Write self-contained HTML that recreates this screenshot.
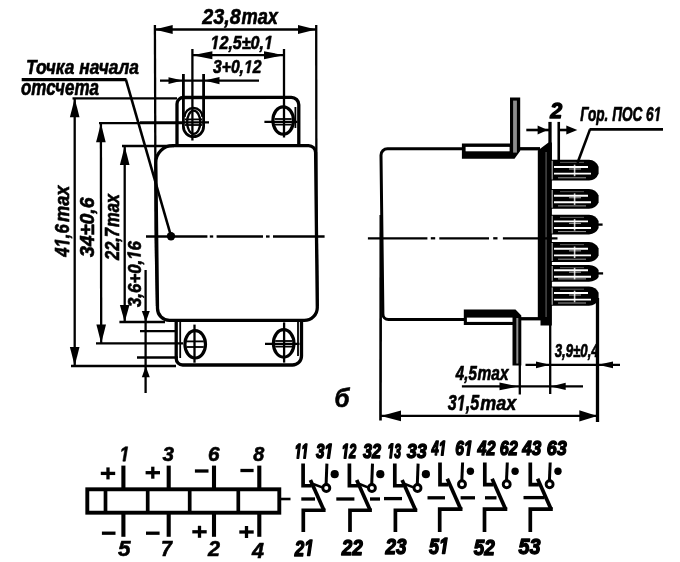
<!DOCTYPE html>
<html>
<head>
<meta charset="utf-8">
<title>Relay drawing</title>
<style>
html,body{margin:0;padding:0;background:#fff;}
body{width:680px;height:562px;overflow:hidden;font-family:"Liberation Sans",sans-serif;}
svg{display:block;position:absolute;left:0;top:0;}
.k{stroke:#000;fill:none;stroke-width:3.3;stroke-linecap:butt;stroke-linejoin:miter;}
.m{stroke:#000;fill:none;stroke-width:2.6;}
.c{stroke:#000;fill:none;stroke-width:3.7;stroke-linejoin:miter;}
.t{stroke:#000;fill:none;stroke-width:2.3;}
.h{stroke:#000;fill:none;stroke-width:1.8;}
.a{fill:#000;stroke:none;}
g.tx{fill:#000;stroke:#000;stroke-width:0.6px;stroke-linejoin:round;}
g.tx.b{stroke-width:1.3px;}
g.tx text,g.tx path{vector-effect:non-scaling-stroke;}
text{font-family:"Liberation Sans",sans-serif;font-style:italic;font-weight:bold;}
</style>
</head>
<body>
<svg width="680" height="562" viewBox="0 0 680 562">
<defs><filter id="bl" x="-5%" y="-5%" width="110%" height="110%"><feGaussianBlur stdDeviation="0.45"/></filter></defs>
<rect x="0" y="0" width="680" height="562" fill="#fff"/>
<g filter="url(#bl)">
<!-- FRONT VIEW -->
<path class="k" d="M155.8,162.6 A17,17 0 0 1 172.8,145.6 L308.6,145.6 A7,7 0 0 1 315.6,152.6 L317.3,307.4 A13,13 0 0 1 304.3,320.4 L169.5,320.4 A12,12 0 0 1 157.5,308.4 Z"/>
<path class="k" d="M177,146 L177,104 A6.5,6.5 0 0 1 183.5,97.5 L291.3,97.3 A7.5,7.5 0 0 1 298.8,104.8 L298.8,146"/>
<path class="h" d="M295.4,128 L295.4,107" />
<path class="k" d="M176.2,320.5 L176.2,358.5 A6.5,6.5 0 0 0 182.7,365 L292.5,365 A9,9 0 0 0 301.5,356 L301.5,320.5"/>
<path class="h" d="M180.2,322 L180.2,358" />
<path class="h" d="M298,322 L298,356" />
<path class="k" d="M183.4,74 L183.4,126.5 A10.1,10.1 0 0 0 203.6,126.5 L203.6,74" style="stroke-width:2.8"/>
<path class="t" d="M184.5,117 A9,9 0 0 1 202.5,117"/>
<ellipse class="t" cx="193.7" cy="122.3" rx="6.6" ry="11.6"/>
<ellipse class="k" cx="283.2" cy="120.5" rx="10.3" ry="13.7" style="stroke-width:3.2"/>
<ellipse class="k" cx="195.2" cy="344.3" rx="10.3" ry="13.7" style="stroke-width:3.2"/>
<ellipse class="k" cx="283.7" cy="343.4" rx="10.3" ry="13.7" style="stroke-width:3.2"/>
<path class="h" d="M185.0,119.4 L202.0,119.4" />
<path class="h" d="M185.0,125.0 L202.0,125.0" />
<path class="h" d="M274.7,119.0 L291.7,119.0" />
<path class="h" d="M274.7,124.6 L291.7,124.6" />
<path class="h" d="M186.7,341.4 L203.7,341.4" />
<path class="h" d="M186.7,347.0 L203.7,347.0" />
<path class="h" d="M275.2,341.0 L292.2,341.0" />
<path class="h" d="M275.2,346.6 L292.2,346.6" />
<path class="t" d="M140,122.4 L209,122.4" />
<path class="t" d="M264.4,121.8 L297.5,121.8" />
<path class="t" d="M265,343.9 L299.5,343.9" />
<path class="t" d="M192.4,100 L192.4,140.5" />
<path class="t" d="M284.1,322.4 L284.1,362.6" />
<path class="t" d="M194.5,324.6 L194.5,362.7" />
<path class="t" d="M146,236.5 L207.4,236.5" />
<path class="t" d="M209.8,236.5 L213.2,236.5" />
<path class="t" d="M216.6,236.5 L263,236.5" />
<path class="t" d="M266,236.5 L269.6,236.5" />
<path class="t" d="M273,236.5 L324.6,236.5" />
<path class="t" d="M154.9,25 L155.6,240" />
<path class="t" d="M155.6,240 L157,306" />
<path class="t" d="M316.2,25 L316.4,200" />
<path class="t" d="M316.4,200 L317.6,306" />
<path class="t" d="M154.7,29.5 L316,29.5" />
<polygon class="a" points="154.7,29.5 172.7,24.9 172.7,34.1"/>
<polygon class="a" points="316.0,29.5 298.0,34.1 298.0,24.9"/>
<g class="tx" transform="translate(202.3 24) scale(0.1978 0.2200)"><text x="0.0" y="0" font-size="100">23,8</text></g>
<g class="tx" transform="translate(241.5 24) scale(0.1824 0.2200)"><text x="0.0" y="0" font-size="100">max</text></g>
<path class="t" d="M192.4,49 L192.4,100" />
<path class="t" d="M284,49 L284,137.5" />
<path class="t" d="M192.4,55.2 L284,55.2" />
<polygon class="a" points="192.4,55.2 212.4,51.2 212.4,59.2"/>
<polygon class="a" points="284.0,55.2 264.0,59.2 264.0,51.2"/>
<g class="tx" transform="translate(210.5 49) scale(0.1609 0.1900)"><path d="M18.6,0 L29.5,-56.25 L10.9,-45.8 L13.2,-57.6 L32.5,-68.8 L45.7,-68.8 L32.3,0 Z" transform="translate(0.0 0)"/><text x="55.6" y="0" font-size="100">2,5±0,</text><path d="M18.6,0 L29.5,-56.25 L10.9,-45.8 L13.2,-57.6 L32.5,-68.8 L45.7,-68.8 L32.3,0 Z" transform="translate(332.9 0)"/></g>
<path class="t" d="M160,80.6 L259,80.6" />
<polygon class="a" points="182.5,80.6 168.5,84.0 168.5,77.2"/>
<polygon class="a" points="204.5,80.6 219.5,77.0 219.5,84.2"/>
<g class="tx" transform="translate(213 73) scale(0.1571 0.1800)"><text x="0.0" y="0" font-size="100">3+0,</text><path d="M18.6,0 L29.5,-56.25 L10.9,-45.8 L13.2,-57.6 L32.5,-68.8 L45.7,-68.8 L32.3,0 Z" transform="translate(197.4 0)"/><text x="253.0" y="0" font-size="100">2</text></g>
<path class="t" d="M72.5,98.3 L177,98.3" />
<path class="t" d="M71,366 L176,366" />
<path class="t" d="M74.7,98.3 L74.7,366" />
<polygon class="a" points="74.7,98.3 79.5,117.3 69.9,117.3"/>
<polygon class="a" points="74.7,366.0 69.9,347.0 79.5,347.0"/>
<g class="tx" transform="translate(69.3 256.7) rotate(-90) scale(0.1670 0.2100)"><text x="0.0" y="0" font-size="100">4</text><path d="M18.6,0 L29.5,-56.25 L10.9,-45.8 L13.2,-57.6 L32.5,-68.8 L45.7,-68.8 L32.3,0 Z" transform="translate(55.6 0)"/><text x="111.2" y="0" font-size="100">,6</text></g>
<g class="tx" transform="translate(69.3 222) rotate(-90) scale(0.1824 0.2100)"><text x="0.0" y="0" font-size="100">max</text></g>
<path class="t" d="M99,123.2 L183,123.2" />
<path class="t" d="M96,343.4 L183,343.4" />
<path class="t" d="M100.9,123.2 L101.2,343.4" />
<polygon class="a" points="100.9,123.2 105.7,142.2 96.1,142.2"/>
<polygon class="a" points="101.2,343.4 96.4,324.4 106.0,324.4"/>
<g class="tx" transform="translate(93.8 257) rotate(-90) scale(0.1950 0.2050)"><text x="0.0" y="0" font-size="100">34±0,6</text></g>
<path class="t" d="M122,146 L174,146" />
<path class="t" d="M119.4,322 L165,322" />
<path class="t" d="M124.7,146 L124.7,322" />
<polygon class="a" points="124.7,146.0 129.5,165.0 119.9,165.0"/>
<polygon class="a" points="124.7,322.0 119.9,305.0 129.5,305.0"/>
<g class="tx" transform="translate(119.3 260) rotate(-90) scale(0.1644 0.1950)"><text x="0.0" y="0" font-size="100">22,7</text></g>
<g class="tx" transform="translate(119.3 227) rotate(-90) scale(0.1649 0.1950)"><text x="0.0" y="0" font-size="100">max</text></g>
<path class="t" d="M145.6,270 L145.6,393" />
<path class="t" d="M140,331.2 L176,331.2" />
<path class="t" d="M137,357.5 L178,357.5" />
<polygon class="a" points="145.8,322.0 141.8,311.0 149.8,311.0"/>
<polygon class="a" points="145.8,366.3 149.8,377.3 141.8,377.3"/>
<g class="tx" transform="translate(140.6 307) rotate(-90) scale(0.1683 0.1900)"><text x="0.0" y="0" font-size="100">3,6+0,</text><path d="M18.6,0 L29.5,-56.25 L10.9,-45.8 L13.2,-57.6 L32.5,-68.8 L45.7,-68.8 L32.3,0 Z" transform="translate(280.8 0)"/><text x="336.4" y="0" font-size="100">6</text></g>
<g class="tx" transform="translate(26 73.5) scale(0.1733 0.2100)"><text x="0.0" y="0" font-size="100">Точка начала</text></g>
<g class="tx" transform="translate(21 94.6) scale(0.1700 0.2200)"><text x="0.0" y="0" font-size="100">отсчета</text></g>
<path class="k" d="M21.7,79.7 L126.5,79.7" />
<path class="m" d="M125.9,79.7 L171,236" />
<circle class="a" cx="171" cy="236.3" r="4.2"/>
<!-- SIDE VIEW -->
<path class="k" d="M462,148.7 L387.5,148.7 A6.5,6.5 0 0 0 381,155.2 L382.9,314 A5.5,5.5 0 0 0 388.4,319.5 L464.4,319.5" style="stroke-width:3"/>
<path class="m" d="M380.8,215 L380.5,420.5" />
<path class="k" d="M520,148.75 L540,148.75" />
<path class="k" d="M521,318.75 L541,318.75" />
<path class="a" d="M461.9,143.6 L510,143.6 L510,97.5 L520.2,97.5 L520.2,151 L514.5,158.7 L461.9,158.7 Z"/>
<rect x="465.6" y="146.9" width="44" height="4.4" fill="#fff"/>
<rect x="513.1" y="100.6" width="3.8" height="52" fill="#8c8c8c"/>
<path class="a" d="M463.8,309.4 L515.5,309.4 L521.3,315.6 L521.3,365.6 L512.5,365.6 L512.5,325 L463.8,325 Z"/>
<rect x="466.9" y="317.6" width="45.6" height="4.3" fill="#fff"/>
<rect x="516.3" y="318" width="2" height="45.5" fill="#8c8c8c"/>
<path class="a" d="M537.8,150.5 L548.5,142.6 L551.9,142.6 L551.9,325.5 L540.5,325.5 L540.5,319 L537.8,319 Z"/>
<rect x="545.6" y="152" width="0.9" height="165" fill="#777"/>
<path class="a" d="M551,159.79999999999998 L589,159.79999999999998 Q596,160.29999999999998 598.6,166.7 L598.6,173.7 Q596,180.1 589,180.6 L551,180.6 Z"/>
<path d="M554,167.0 L588,167.0" stroke="#fff" stroke-width="1.9"/>
<path d="M554,173.6 L591,173.6" stroke="#fff" stroke-width="1.9"/>
<path d="M552.2,160.79999999999998 L552.2,179.6" stroke="#fff" stroke-width="1.1" opacity="0.75"/>
<path d="M558,177.79999999999998 L586,177.79999999999998" stroke="#fff" stroke-width="1" opacity="0.6"/>
<path d="M560,162.39999999999998 L584,162.39999999999998" stroke="#fff" stroke-width="1" opacity="0.35"/>
<path d="M574.6,164.7 L574.6,176.2" stroke="#fff" stroke-width="1.6" opacity="0.8"/>
<path d="M569,169.0 L581,169.0" stroke="#fff" stroke-width="1.2" opacity="0.55"/>
<path class="a" d="M551,189.1 L589,189.1 Q596,189.6 598.6,195.4 L598.6,202.4 Q596,208.20000000000002 589,208.70000000000002 L551,208.70000000000002 Z"/>
<path d="M554,195.70000000000002 L588,195.70000000000002" stroke="#fff" stroke-width="1.9"/>
<path d="M554,202.3 L591,202.3" stroke="#fff" stroke-width="1.9"/>
<path d="M552.2,190.1 L552.2,207.70000000000002" stroke="#fff" stroke-width="1.1" opacity="0.75"/>
<path d="M558,205.9 L586,205.9" stroke="#fff" stroke-width="1" opacity="0.6"/>
<path d="M560,191.7 L584,191.7" stroke="#fff" stroke-width="1" opacity="0.35"/>
<path d="M574.6,193.4 L574.6,204.9" stroke="#fff" stroke-width="1.6" opacity="0.8"/>
<path d="M569,197.70000000000002 L581,197.70000000000002" stroke="#fff" stroke-width="1.2" opacity="0.55"/>
<path class="a" d="M551,214.79999999999998 L589,214.79999999999998 Q596,215.29999999999998 598.6,221.1 L598.6,228.1 Q596,233.9 589,234.4 L551,234.4 Z"/>
<path class="t" d="M598,224.6 L602.6,224.6"/>
<path d="M554,221.4 L588,221.4" stroke="#fff" stroke-width="1.9"/>
<path d="M554,228.0 L591,228.0" stroke="#fff" stroke-width="1.9"/>
<path d="M552.2,215.79999999999998 L552.2,233.4" stroke="#fff" stroke-width="1.1" opacity="0.75"/>
<path d="M558,231.6 L586,231.6" stroke="#fff" stroke-width="1" opacity="0.6"/>
<path d="M560,217.39999999999998 L584,217.39999999999998" stroke="#fff" stroke-width="1" opacity="0.35"/>
<path d="M574.6,219.1 L574.6,230.6" stroke="#fff" stroke-width="1.6" opacity="0.8"/>
<path d="M569,223.4 L581,223.4" stroke="#fff" stroke-width="1.2" opacity="0.55"/>
<path class="a" d="M551,242 L589,242 Q596,242.5 598.6,248.5 L598.6,255.5 Q596,261.5 589,262 L551,262 Z"/>
<path d="M554,248.8 L588,248.8" stroke="#fff" stroke-width="1.9"/>
<path d="M554,255.4 L591,255.4" stroke="#fff" stroke-width="1.9"/>
<path d="M552.2,243 L552.2,261" stroke="#fff" stroke-width="1.1" opacity="0.75"/>
<path d="M558,259.2 L586,259.2" stroke="#fff" stroke-width="1" opacity="0.6"/>
<path d="M560,244.6 L584,244.6" stroke="#fff" stroke-width="1" opacity="0.35"/>
<path d="M574.6,246.5 L574.6,258" stroke="#fff" stroke-width="1.6" opacity="0.8"/>
<path d="M569,250.8 L581,250.8" stroke="#fff" stroke-width="1.2" opacity="0.55"/>
<path class="a" d="M551,265.09999999999997 L589,265.09999999999997 Q596,265.59999999999997 598.6,269.9 L598.6,276.9 Q596,281.2 589,281.7 L551,281.7 Z"/>
<path class="t" d="M598,273.4 L603.1,273.4"/>
<path d="M554,270.2 L588,270.2" stroke="#fff" stroke-width="1.9"/>
<path d="M554,276.79999999999995 L591,276.79999999999995" stroke="#fff" stroke-width="1.9"/>
<path d="M552.2,266.09999999999997 L552.2,280.7" stroke="#fff" stroke-width="1.1" opacity="0.75"/>
<path d="M558,278.9 L586,278.9" stroke="#fff" stroke-width="1" opacity="0.6"/>
<path d="M560,267.7 L584,267.7" stroke="#fff" stroke-width="1" opacity="0.35"/>
<path d="M574.6,267.9 L574.6,279.4" stroke="#fff" stroke-width="1.6" opacity="0.8"/>
<path d="M569,272.2 L581,272.2" stroke="#fff" stroke-width="1.2" opacity="0.55"/>
<path class="a" d="M551,286.59999999999997 L589,286.59999999999997 Q596,287.09999999999997 598.6,292.7 L598.6,299.7 Q596,305.3 589,305.8 L551,305.8 Z"/>
<path d="M554,293.0 L588,293.0" stroke="#fff" stroke-width="1.9"/>
<path d="M554,299.59999999999997 L591,299.59999999999997" stroke="#fff" stroke-width="1.9"/>
<path d="M552.2,287.59999999999997 L552.2,304.8" stroke="#fff" stroke-width="1.1" opacity="0.75"/>
<path d="M558,303.0 L586,303.0" stroke="#fff" stroke-width="1" opacity="0.6"/>
<path d="M560,289.2 L584,289.2" stroke="#fff" stroke-width="1" opacity="0.35"/>
<path d="M574.6,290.7 L574.6,302.2" stroke="#fff" stroke-width="1.6" opacity="0.8"/>
<path d="M569,295.0 L581,295.0" stroke="#fff" stroke-width="1.2" opacity="0.55"/>
<path class="t" d="M367.9,238.3 L427.4,238.3" />
<path class="t" d="M430.8,238.3 L435.2,238.3" />
<path class="t" d="M439.3,238.3 L489,238.3" />
<path class="t" d="M493.2,238.3 L497.5,238.3" />
<path class="t" d="M502.9,238.3 L557.5,238.3" />
<path class="k" d="M550,121.9 L550,160" />
<path class="m" d="M558.75,121.9 L558.75,162" />
<path class="m" d="M526.3,130 L549,130" />
<path class="m" d="M559,130 L570,130" />
<polygon class="a" points="547.6,130.0 537.6,134.6 537.6,125.4"/>
<polygon class="a" points="577.3,130.0 566.3,134.6 566.3,125.4"/>
<g class="tx b" transform="translate(550.3 117.6) scale(0.2150 0.2150)"><text x="0.0" y="0" font-size="100">2</text></g>
<g class="tx" transform="translate(580.3 120.9) scale(0.1361 0.2000)"><text x="0.0" y="0" font-size="100">Гор. ПОС 6</text><path d="M18.6,0 L29.5,-56.25 L10.9,-45.8 L13.2,-57.6 L32.5,-68.8 L45.7,-68.8 L32.3,0 Z" transform="translate(539.5 0)"/></g>
<path class="m" d="M589.5,129.4 L663,129.4" />
<path class="m" d="M590,129.4 L577.5,163" />
<path class="t" d="M519.8,365 L519.8,394.5" />
<path class="t" d="M550.2,325 L550.2,394" />
<path class="k" d="M597.5,298 L597.5,422" />
<path class="t" d="M525.5,364.8 L620,364.8" />
<polygon class="a" points="550.0,364.8 536.0,368.2 536.0,361.4"/>
<polygon class="a" points="598.0,364.8 613.0,361.4 613.0,368.2"/>
<g class="tx" transform="translate(554.7 357.3) scale(0.1322 0.1750)"><text x="0.0" y="0" font-size="100">3,9±0,4</text></g>
<path class="t" d="M461.9,386.4 L583,386.4" />
<polygon class="a" points="518.5,386.4 499.5,390.2 499.5,382.6"/>
<polygon class="a" points="550.7,386.4 565.7,382.8 565.7,390.0"/>
<g class="tx" transform="translate(455.8 380) scale(0.1511 0.1950)"><text x="0.0" y="0" font-size="100">4,5</text></g>
<g class="tx" transform="translate(477.6 380) scale(0.1549 0.1950)"><text x="0.0" y="0" font-size="100">max</text></g>
<path class="t" d="M381,415.9 L597,415.9" />
<polygon class="a" points="381.0,415.9 401.0,410.5 401.0,421.3"/>
<polygon class="a" points="597.3,415.9 579.3,421.6 579.3,410.2"/>
<g class="tx" transform="translate(447.8 410.4) scale(0.1608 0.2200)"><text x="0.0" y="0" font-size="100">3</text><path d="M18.6,0 L29.5,-56.25 L10.9,-45.8 L13.2,-57.6 L32.5,-68.8 L45.7,-68.8 L32.3,0 Z" transform="translate(55.6 0)"/><text x="111.2" y="0" font-size="100">,5</text></g>
<g class="tx" transform="translate(480.3 410.4) scale(0.1799 0.2100)"><text x="0.0" y="0" font-size="100">max</text></g>
<g class="tx" transform="translate(334.5 407) scale(0.2423 0.2550)"><text x="0.0" y="0" font-size="100">б</text></g>
<!-- SCHEMATIC -->
<rect class="c" x="87.3" y="489.3" width="192" height="23.4" style="stroke-width:3.9"/>
<path class="c" d="M105.5,489 L105.5,513" />
<path class="c" d="M147.7,489 L147.7,513" />
<path class="c" d="M189.7,489 L189.7,513" />
<path class="c" d="M238.3,489 L238.3,513" />
<path class="c" d="M123.4,465.6 L123.4,489" style="stroke-width:4.1"/>
<path class="c" d="M123.4,513 L123.4,536.8" style="stroke-width:4.1"/>
<path class="c" d="M168.7,465.6 L168.7,489" style="stroke-width:4.1"/>
<path class="c" d="M168.7,513 L168.7,536.8" style="stroke-width:4.1"/>
<path class="c" d="M214,465.6 L214,489" style="stroke-width:4.1"/>
<path class="c" d="M214,513 L214,536.8" style="stroke-width:4.1"/>
<path class="c" d="M259.3,465.6 L259.3,489" style="stroke-width:4.1"/>
<path class="c" d="M259.3,513 L259.3,536.8" style="stroke-width:4.1"/>
<path class="m" d="M281,499 L290.5,499" />
<g class="tx" transform="translate(119.5 461.2) scale(0.1798 0.2100)"><path d="M18.6,0 L29.5,-56.25 L10.9,-45.8 L13.2,-57.6 L32.5,-68.8 L45.7,-68.8 L32.3,0 Z" transform="translate(0.0 0)"/></g>
<g class="tx" transform="translate(162.5 461.2) scale(0.2068 0.2100)"><text x="0.0" y="0" font-size="100">3</text></g>
<g class="tx" transform="translate(208 461.2) scale(0.2068 0.2100)"><text x="0.0" y="0" font-size="100">6</text></g>
<g class="tx" transform="translate(253.2 461.2) scale(0.1978 0.2100)"><text x="0.0" y="0" font-size="100">8</text></g>
<g class="tx" transform="translate(118 556.3) scale(0.2248 0.2200)"><text x="0.0" y="0" font-size="100">5</text></g>
<g class="tx" transform="translate(161 556.3) scale(0.1978 0.2200)"><text x="0.0" y="0" font-size="100">7</text></g>
<g class="tx" transform="translate(208 556.3) scale(0.2158 0.2200)"><text x="0.0" y="0" font-size="100">2</text></g>
<g class="tx" transform="translate(252 557.8) scale(0.2158 0.2200)"><text x="0.0" y="0" font-size="100">4</text></g>
<path class="k" d="M100.8,473.4 L115.2,473.4" />
<path class="k" d="M108,467.4 L108,479.4" />
<path class="k" d="M145.60000000000002,472.7 L160.0,472.7" />
<path class="k" d="M152.8,466.7 L152.8,478.7" />
<path class="k" d="M194.89999999999998,471 L208.5,471" />
<path class="k" d="M240.4,470.5 L253.6,470.5" />
<path class="k" d="M101.9,533.2 L115.5,533.2" />
<path class="k" d="M146.0,533.2 L159.60000000000002,533.2" />
<path class="k" d="M192.3,531.8 L206.7,531.8" />
<path class="k" d="M199.5,525.8 L199.5,537.8" />
<path class="k" d="M239.3,532 L253.7,532" />
<path class="k" d="M246.5,526 L246.5,538" />
<path class="c" d="M303.1,463.6 L303.1,485.75 L311.70000000000005,485.75"/>
<path class="c" d="M310.40000000000003,479.9 L323.90000000000003,510.25"/>
<path class="c" d="M325.6,510.25 L303.3,510.25 L303.3,532"/>
<path class="c" d="M326.90000000000003,463.6 L326.1,484.5" style="stroke-width:3"/>
<circle cx="326.3" cy="488" r="3.5" fill="#fff" stroke="#000" stroke-width="2.9"/>
<circle class="a" cx="334.7" cy="474.2" r="4.1"/>
<path class="m" d="M313.1,484 L322.3,487.4" />
<path class="c" d="M349.4,463.6 L349.4,485.75 L358.0,485.75"/>
<path class="c" d="M356.7,479.9 L370.2,510.25"/>
<path class="c" d="M371.9,510.25 L350,510.25 L350,532"/>
<path class="c" d="M372.5,463.6 L371.7,484.5" style="stroke-width:3"/>
<circle cx="371.9" cy="488" r="3.5" fill="#fff" stroke="#000" stroke-width="2.9"/>
<circle class="a" cx="380.29999999999995" cy="474.2" r="4.1"/>
<path class="m" d="M359.4,484 L367.9,487.4" />
<path class="c" d="M394.8,463.6 L394.8,485.75 L403.40000000000003,485.75"/>
<path class="c" d="M402.1,479.9 L415.6,510.25"/>
<path class="c" d="M417.3,510.25 L395.4,510.25 L395.4,532"/>
<path class="c" d="M418.1,463.6 L417.3,484.5" style="stroke-width:3"/>
<circle cx="417.5" cy="488" r="3.5" fill="#fff" stroke="#000" stroke-width="2.9"/>
<circle class="a" cx="425.9" cy="474.2" r="4.1"/>
<path class="m" d="M404.8,484 L413.5,487.4" />
<path class="c" d="M440,462.5 L440,484.65 L448.6,484.65"/>
<path class="c" d="M447.3,478.79999999999995 L460.8,509.15"/>
<path class="c" d="M462.5,509.15 L439.7,509.15 L439.7,532"/>
<path class="c" d="M462.6,462.5 L461.8,480.8" style="stroke-width:3"/>
<circle cx="462" cy="484.3" r="3.5" fill="#fff" stroke="#000" stroke-width="2.9"/>
<circle class="a" cx="470.4" cy="471.3" r="3.7"/>
<path class="c" d="M484.8,462.5 L484.8,484.65 L493.40000000000003,484.65"/>
<path class="c" d="M492.1,478.79999999999995 L505.6,509.15"/>
<path class="c" d="M507.3,509.15 L484.5,509.15 L484.5,532"/>
<path class="c" d="M507.3,462.5 L506.5,480.8" style="stroke-width:3"/>
<circle cx="506.7" cy="484.3" r="3.5" fill="#fff" stroke="#000" stroke-width="2.9"/>
<circle class="a" cx="515.1" cy="471.3" r="3.7"/>
<path class="c" d="M530.3,462.5 L530.3,484.65 L538.9,484.65"/>
<path class="c" d="M537.5999999999999,478.79999999999995 L551.0999999999999,509.15"/>
<path class="c" d="M552.8,509.15 L530.3,509.15 L530.3,532"/>
<path class="c" d="M550.2,462.5 L549.4,480.8" style="stroke-width:3"/>
<circle cx="549.6" cy="484.3" r="3.5" fill="#fff" stroke="#000" stroke-width="2.9"/>
<circle class="a" cx="558.0" cy="471.3" r="3.7"/>
<g class="tx b" transform="translate(294.8 458.3) scale(0.1204 0.2100)"><path d="M18.6,0 L29.5,-56.25 L10.9,-45.8 L13.2,-57.6 L32.5,-68.8 L45.7,-68.8 L32.3,0 Z" transform="translate(0.0 0)"/><path d="M18.6,0 L29.5,-56.25 L10.9,-45.8 L13.2,-57.6 L32.5,-68.8 L45.7,-68.8 L32.3,0 Z" transform="translate(55.6 0)"/></g>
<g class="tx b" transform="translate(316 458.3) scale(0.1528 0.2100)"><text x="0.0" y="0" font-size="100">3</text><path d="M18.6,0 L29.5,-56.25 L10.9,-45.8 L13.2,-57.6 L32.5,-68.8 L45.7,-68.8 L32.3,0 Z" transform="translate(55.6 0)"/></g>
<g class="tx b" transform="translate(341.7 458.3) scale(0.1304 0.2100)"><path d="M18.6,0 L29.5,-56.25 L10.9,-45.8 L13.2,-57.6 L32.5,-68.8 L45.7,-68.8 L32.3,0 Z" transform="translate(0.0 0)"/><text x="55.6" y="0" font-size="100">2</text></g>
<g class="tx b" transform="translate(363 458.3) scale(0.1618 0.2100)"><text x="0.0" y="0" font-size="100">32</text></g>
<g class="tx b" transform="translate(387.5 458) scale(0.1214 0.2100)"><path d="M18.6,0 L29.5,-56.25 L10.9,-45.8 L13.2,-57.6 L32.5,-68.8 L45.7,-68.8 L32.3,0 Z" transform="translate(0.0 0)"/><text x="55.6" y="0" font-size="100">3</text></g>
<g class="tx b" transform="translate(406.7 458) scale(0.1798 0.2100)"><text x="0.0" y="0" font-size="100">33</text></g>
<g class="tx b" transform="translate(431.6 455.3) scale(0.1304 0.2100)"><text x="0.0" y="0" font-size="100">4</text><path d="M18.6,0 L29.5,-56.25 L10.9,-45.8 L13.2,-57.6 L32.5,-68.8 L45.7,-68.8 L32.3,0 Z" transform="translate(55.6 0)"/></g>
<g class="tx b" transform="translate(455.2 455.3) scale(0.1573 0.2100)"><text x="0.0" y="0" font-size="100">6</text><path d="M18.6,0 L29.5,-56.25 L10.9,-45.8 L13.2,-57.6 L32.5,-68.8 L45.7,-68.8 L32.3,0 Z" transform="translate(55.6 0)"/></g>
<g class="tx b" transform="translate(477.4 455.3) scale(0.1618 0.2100)"><text x="0.0" y="0" font-size="100">42</text></g>
<g class="tx b" transform="translate(499.8 455.3) scale(0.1618 0.2100)"><text x="0.0" y="0" font-size="100">62</text></g>
<g class="tx b" transform="translate(522.2 455.3) scale(0.1708 0.2100)"><text x="0.0" y="0" font-size="100">43</text></g>
<g class="tx b" transform="translate(546.7 455.3) scale(0.1798 0.2100)"><text x="0.0" y="0" font-size="100">63</text></g>
<g class="tx b" transform="translate(294.8 555.5) scale(0.1708 0.2250)"><text x="0.0" y="0" font-size="100">2</text><path d="M18.6,0 L29.5,-56.25 L10.9,-45.8 L13.2,-57.6 L32.5,-68.8 L45.7,-68.8 L32.3,0 Z" transform="translate(55.6 0)"/></g>
<g class="tx b" transform="translate(341.7 554.5) scale(0.1888 0.2250)"><text x="0.0" y="0" font-size="100">22</text></g>
<g class="tx b" transform="translate(385.4 553.5) scale(0.1888 0.2250)"><text x="0.0" y="0" font-size="100">23</text></g>
<g class="tx b" transform="translate(429 553.5) scale(0.1798 0.2250)"><text x="0.0" y="0" font-size="100">5</text><path d="M18.6,0 L29.5,-56.25 L10.9,-45.8 L13.2,-57.6 L32.5,-68.8 L45.7,-68.8 L32.3,0 Z" transform="translate(55.6 0)"/></g>
<g class="tx b" transform="translate(473.8 554.5) scale(0.1888 0.2250)"><text x="0.0" y="0" font-size="100">52</text></g>
<g class="tx b" transform="translate(518.6 553.5) scale(0.1978 0.2250)"><text x="0.0" y="0" font-size="100">53</text></g>
<path class="k" d="M301.3,499 L315,499" />
<path class="k" d="M336.3,499 L354.4,499" />
<path class="k" d="M370,499 L380,499" />
<path class="k" d="M384,498.6 L402,498.6" />
<path class="k" d="M427.5,497.8 L445,497.8" />
<path class="k" d="M460.6,497.8 L475,497.8" />
<path class="k" d="M485,497.8 L496.5,497.8" />
<path class="k" d="M523.5,497.6 L544.6,497.6" />
</g>
</svg>
</body>
</html>
